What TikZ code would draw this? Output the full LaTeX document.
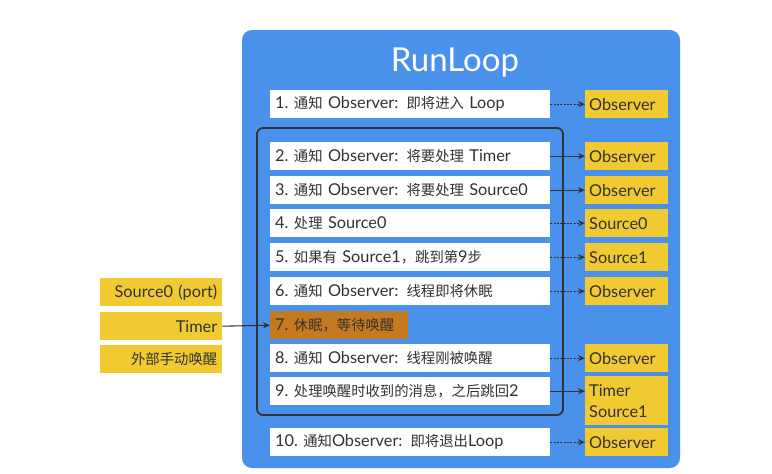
\documentclass[tikz,border=0pt]{standalone}
\usepackage{fontspec}
\setmainfont{Lato}
\newfontfamily\cjk[Scale=0.88]{Noto Sans CJK SC}
\usetikzlibrary{arrows.meta}
\definecolor{rlblue}{RGB}{74,145,236}
\definecolor{rlyellow}{RGB}{240,202,48}
\definecolor{rlorange}{RGB}{198,122,32}
\definecolor{rldark}{RGB}{50,50,50}
\tikzset{
  stepbox/.style={fill=white, anchor=north west, minimum height=28pt, text width=270pt,
    inner xsep=5pt, inner ysep=0pt, align=left, text=rldark, font=\fontsize{16.3}{18}\selectfont},
  sleepbox/.style={stepbox, fill=rlorange, text width=128pt},
  obsbox/.style={fill=rlyellow, anchor=north west, minimum height=28pt, text width=75pt,
    inner xsep=4pt, inner ysep=0pt, align=left, text=rldark, font=\fontsize{16.3}{18}\selectfont},
  srcbox/.style={fill=rlyellow, anchor=north west, minimum height=28pt, text width=112pt,
    inner xsep=5pt, inner ysep=0pt, align=right, text=rldark, font=\fontsize{16.3}{18}\selectfont},
  solidarrow/.style={draw=rldark, line width=1.1pt, -{Stealth[length=7pt,width=6pt]}},
  dotarrow/.style={solidarrow, dash pattern=on 2pt off 1.3pt},
}
\begin{document}
\begin{tikzpicture}[x=1pt,y=-1pt]
\useasboundingbox (0,0) rectangle (772,474);
\fill[rlblue, rounded corners=10pt] (242,30) rectangle (680,468);
\node[text=white, font=\fontsize{33}{38}\selectfont] (title) at (455,63) {RunLoop};
\draw[rldark, line width=1.8pt, rounded corners=6pt] (257,128) rectangle (563,415);

% steps
\node[stepbox] (w1) at (270,90) {1.~{\cjk 通知} Observer: {\cjk 即将进入} Loop};
\node[stepbox] (w2) at (270,142) {2.~{\cjk 通知} Observer: {\cjk 将要处理} Timer};
\node[stepbox] (w3) at (270,176) {3.~{\cjk 通知} Observer: {\cjk 将要处理} Source0};
\node[stepbox] (w4) at (270,209) {4.~{\cjk 处理} Source0};
\node[stepbox] (w5) at (270,243) {5.~{\cjk 如果有} Source1{\cjk ，跳到第}9{\cjk 步}};
\node[stepbox] (w6) at (270,277) {6.~{\cjk 通知} Observer: {\cjk 线程即将休眠}};
\node[sleepbox] (w7) at (270,311) {7.~{\cjk 休眠，等待唤醒}};
\node[stepbox] (w8) at (270,344) {8.~{\cjk 通知} Observer: {\cjk 线程刚被唤醒}};
\node[stepbox] (w9) at (270,377) {9.~{\cjk 处理唤醒时收到的消息，之后跳回}2};
\node[stepbox] (w10) at (270,428) {10.~{\cjk 通知}Observer: {\cjk 即将退出}Loop};

% right boxes
\node[obsbox] (y1) at (585,90) {Observer};
\node[obsbox] (y2) at (585,142) {Observer};
\node[obsbox] (y3) at (585,176) {Observer};
\node[obsbox] (y4) at (585,209) {Source0};
\node[obsbox] (y5) at (585,243) {Source1};
\node[obsbox] (y6) at (585,277) {Observer};
\node[obsbox] (y8) at (585,344) {Observer};
\node[obsbox, minimum height=49pt, font=\fontsize{16.3}{21}\selectfont] (y9) at (585,376) {Timer\\Source1};
\node[obsbox] (y10) at (585,428) {Observer};

% left boxes
\node[srcbox] (l1) at (100,278) {Source0 (port)};
\node[srcbox] (l2) at (100,312) {Timer};
\node[srcbox] (l3) at (100,345) {{\cjk 外部手动唤醒}};

% arrows
\draw[dotarrow] (w1.east) -- (y1.west);
\draw[solidarrow] (w2.east) -- (y2.west);
\draw[solidarrow] (w3.east) -- (y3.west);
\draw[dotarrow] (w4.east) -- (y4.west);
\draw[dotarrow] (w5.east) -- (y5.west);
\draw[dotarrow] (w6.east) -- (y6.west);
\draw[dotarrow] (w8.east) -- (y8.west);
\draw[solidarrow] (w9.east) -- (w9.east -| y9.west);
\draw[dotarrow] (w10.east) -- (y10.west);
\draw[solidarrow] (l2.east) -- (w7.west);
\end{tikzpicture}
\end{document}
